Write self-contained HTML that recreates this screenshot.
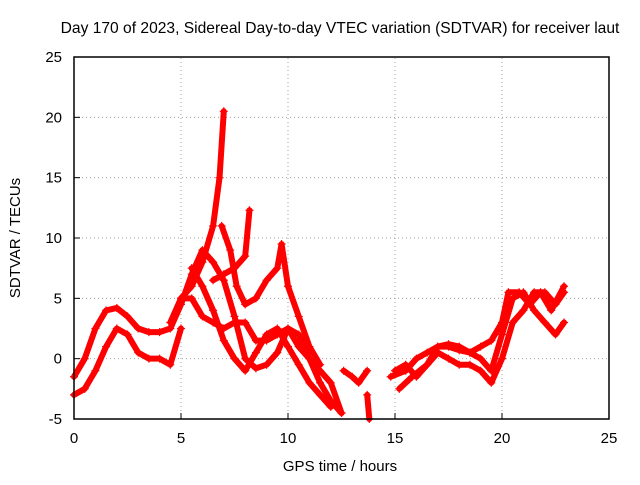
<!DOCTYPE html>
<html><head><meta charset="utf-8"><style>
body{margin:0;background:#fff;}
svg text{font-family:"Liberation Sans",sans-serif;font-size:14px;fill:#000;}
</style></head><body>
<svg id="chart" width="640" height="480" xmlns="http://www.w3.org/2000/svg">
<rect width="640" height="480" fill="#fff"/>
<text x="340" y="33" text-anchor="middle" style="font-size:15.6px">Day 170 of 2023, Sidereal Day-to-day VTEC variation (SDTVAR) for receiver laut</text>
<text transform="translate(20,238) rotate(-90)" text-anchor="middle" style="font-size:15px">SDTVAR / TECUs</text>
<text x="340" y="471" text-anchor="middle" style="font-size:15px">GPS time / hours</text>
<g id="grid"></g><g id="series"></g><g id="axes"></g>
</svg>
<script>
const xTicks=[0,5,10,15,20,25];
const yTicks=[-5,0,5,10,15,20,25];
const track1=[[0,-1.5],[0.5,0],[1,2.5],[1.5,4],[2,4.2],[2.5,3.5],[3,2.5],[3.5,2.2],[4,2.2],[4.5,2.5],[5,4.5],[5.5,7],[6,9],[6.5,8],[7,6.5],[7.5,3.5],[8,0],[8.5,-0.8],[9,-0.5],[9.5,0.5],[10,2.5],[10.5,2],[11,0],[11.5,-2],[12,-3.5],[12.5,-4.5]];
const track2=[[0,-3],[0.5,-2.5],[1,-1],[1.5,1],[2,2.5],[2.5,2],[3,0.5],[3.5,0],[4,0],[4.5,-0.5],[5,2.5]];
const track3=[[4.5,3],[5,5],[5.5,6],[6,8],[6.5,11],[6.8,15],[7,20.5]];
const track4=[[5,5],[5.5,5],[6,3.5],[6.5,3],[7,2.5],[7.5,3],[8,3],[8.5,1.5],[9,1.5],[9.5,2],[10,2.5],[10.5,1],[11,0],[11.5,-1],[12,-2],[12.5,-4.5]];
const track5=[[5.5,7.5],[6,6],[6.5,4],[7,1.5],[7.5,0],[8,-1],[8.5,0.5],[9,2],[9.5,2.5],[10,1],[10.5,-0.5],[11,-2],[11.5,-3],[12,-4]];
const track6=[[6.5,6.5],[7,7],[7.5,7.5],[8,8.5],[8.2,12.3]];
const track7=[[6.9,11],[7.3,9],[7.6,6],[8,4.5],[8.5,5],[9,6.5],[9.5,7.5],[9.7,9.5],[10,6],[10.5,3.5],[11,1],[11.5,-0.5]];
const track8=[[12.6,-1],[13,-1.5],[13.3,-2],[13.7,-1]];
const track9=[[13.7,-3],[13.8,-5]];
const track10=[[14.8,-1.5],[15.5,-1],[16,0],[16.5,0.5],[17,1],[17.5,1],[18,0.7],[18.5,0.5],[19,0],[19.5,-1],[20,2],[20.5,5],[21,5.5],[21.5,4],[22,3],[22.5,2],[22.9,3]];
const track11=[[15,-1],[15.5,-0.5],[16,-1.5],[16.5,-0.5],[17,0.5],[17.5,0],[18,-0.5],[18.5,-0.5],[19,-1],[19.5,-2],[20,0],[20.5,3],[21,4],[21.5,5.5],[22,5.5],[22.5,4.5],[22.9,5.5]];
const track12=[[15.2,-2.5],[15.8,-1.5],[16.5,-0.5],[17,1],[17.5,1.2],[18,1],[18.5,0.5],[19,1],[19.5,1.5],[20,3],[20.3,5.5],[20.8,5.5],[21.3,4.5],[21.8,5.5],[22.3,4],[22.9,6]];
const tracks=[track1,track2,track3,track4,track5,track6,track7,track8,track9,track10,track11,track12];
const X0=74,X1=609,Y0=419,Y1=57;
const sx=v=>X0+(v-0)/(25-0)*(X1-X0);
const sy=v=>Y0-(v+5)/(30)*(Y0-Y1);
const NS="http://www.w3.org/2000/svg";
function mk(t,a,p){const e=document.createElementNS(NS,t);for(const k in a)e.setAttribute(k,a[k]);p.appendChild(e);return e;}
const grid=document.getElementById('grid'),axes=document.getElementById('axes'),ser=document.getElementById('series');
xTicks.forEach(t=>{
 if(t>0&&t<25){const g=mk('line',{x1:sx(t),x2:sx(t),y1:Y0,y2:Y1,stroke:'#a0a0a0','stroke-dasharray':'1,3'},grid);
 
 }
 const tk=mk('line',{x1:sx(t),x2:sx(t),y1:Y0,y2:Y0-6,stroke:'#000'},axes);
 
 
 const l=mk('text',{x:sx(t),y:Y0+24,'text-anchor':'middle',style:'font-size:15px'},axes);l.textContent=t;
 
 
});
yTicks.forEach(t=>{
 if(t>-5&&t<25){const g=mk('line',{x1:X0,x2:X1,y1:sy(t),y2:sy(t),stroke:'#a0a0a0','stroke-dasharray':'1,3'},grid);
 
 }
 const tk=mk('line',{x1:X0,x2:X0+6,y1:sy(t),y2:sy(t),stroke:'#000'},axes);
 
 
 const l=mk('text',{x:X0-12,y:sy(t)+5,'text-anchor':'end',style:'font-size:15px'},axes);l.textContent=t;
 
 
});
const fr=mk('rect',{x:X0,y:Y1,width:X1-X0,height:Y0-Y1,fill:'none',stroke:'#000','stroke-width':1.5},axes);


tracks.forEach(tr=>{
 const g=mk('g',{},ser);
 
 
 mk('polyline',{points:tr.map(p=>sx(p[0])+','+sy(p[1])).join(' '),fill:'none',stroke:'#ff0000','stroke-width':6,'stroke-linejoin':'round','stroke-linecap':'round'},g);
 tr.forEach(p=>{const x=sx(p[0]),y=sy(p[1]);
  const m=mk('path',{d:`M${x-4},${y}h8M${x},${y-4}v8`,stroke:'#ff0000','stroke-width':1.2},g);
  
  
 });
});
</script>
</body></html>
